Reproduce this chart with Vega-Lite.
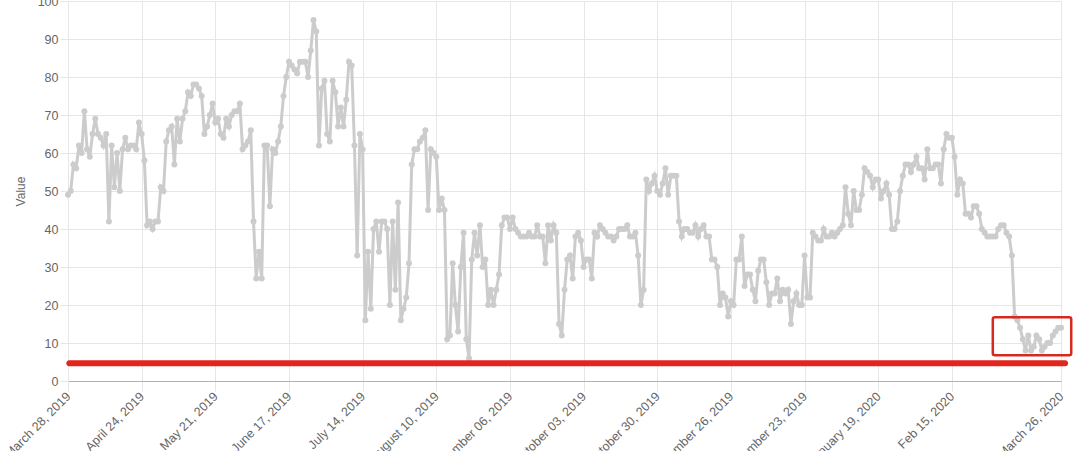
{
  "$schema": "https://vega.github.io/schema/vega-lite/v6.json",
  "width": 993,
  "height": 380,
  "autosize": {"type": "none"},
  "padding": {"left": 68, "top": 1, "right": 19, "bottom": 70},
  "background": "white",
  "config": {"view": {"stroke": null}, "font": "Liberation Sans"},
  "encoding": {
    "x": {
      "field": "date", "type": "temporal",
      "scale": {"type": "utc", "domain": [{"year": 2019, "month": 3, "date": 28, "utc": true}, {"year": 2020, "month": 3, "date": 26, "utc": true}]},
      "axis": {
        "title": null,
        "values": [
          {"year": 2019, "month": 3, "date": 28, "utc": true},
          {"year": 2019, "month": 4, "date": 24, "utc": true},
          {"year": 2019, "month": 5, "date": 21, "utc": true},
          {"year": 2019, "month": 6, "date": 17, "utc": true},
          {"year": 2019, "month": 7, "date": 14, "utc": true},
          {"year": 2019, "month": 8, "date": 10, "utc": true},
          {"year": 2019, "month": 9, "date": 6, "utc": true},
          {"year": 2019, "month": 10, "date": 3, "utc": true},
          {"year": 2019, "month": 10, "date": 30, "utc": true},
          {"year": 2019, "month": 11, "date": 26, "utc": true},
          {"year": 2019, "month": 12, "date": 23, "utc": true},
          {"year": 2020, "month": 1, "date": 19, "utc": true},
          {"year": 2020, "month": 2, "date": 15, "utc": true},
          {"year": 2020, "month": 3, "date": 26, "utc": true}
        ],
        "labelExpr": "utcmonth(datum.value) == 1 ? 'Feb 15, 2020' : utcFormat(datum.value, '%B %d, %Y')",
        "labelAngle": -45, "labelAlign": "right", "labelBaseline": "middle",
        "labelPadding": 3, "labelFontSize": 12.5, "labelColor": "#666666",
        "labelOverlap": false, "labelFlush": false, "labelBound": false,
        "tickSize": 10, "tickColor": "#e6e6e6",
        "grid": true, "gridColor": "#e6e6e6",
        "domainColor": "#b3b3b3"
      }
    },
    "y": {
      "field": "value", "type": "quantitative",
      "scale": {"domain": [0, 100], "nice": false},
      "axis": {
        "title": "Value",
        "values": [0, 10, 20, 30, 40, 50, 60, 70, 80, 90, 100],
        "labelOverlap": false, "labelFlush": false, "labelBound": false,
        "labelFontSize": 12.5, "labelColor": "#666666", "labelPadding": 2, "labelBaseline": "middle",
        "tickSize": 8, "tickColor": "#e6e6e6",
        "grid": true, "gridColor": "#e6e6e6",
        "domainColor": "#e6e6e6",
        "titleColor": "#666666", "titleFontSize": 12, "titleFontWeight": "normal",
        "titleAngle": -90, "titleX": -48, "titleY": 190, "titleAlign": "center", "titleBaseline": "middle"
      }
    }
  },
  "layer": [
    {
      "data": {"values": [
        {"date":"2019-03-28","value":49},{"date":"2019-03-29","value":50},{"date":"2019-03-30","value":57},{"date":"2019-03-31","value":56},
        {"date":"2019-04-01","value":62},{"date":"2019-04-02","value":60},{"date":"2019-04-03","value":71},{"date":"2019-04-04","value":61},{"date":"2019-04-05","value":59},{"date":"2019-04-06","value":65},{"date":"2019-04-07","value":69},{"date":"2019-04-08","value":65},{"date":"2019-04-09","value":64},{"date":"2019-04-10","value":62},{"date":"2019-04-11","value":65},{"date":"2019-04-12","value":42},{"date":"2019-04-13","value":62},{"date":"2019-04-14","value":51},{"date":"2019-04-15","value":60},{"date":"2019-04-16","value":50},{"date":"2019-04-17","value":61},{"date":"2019-04-18","value":64},{"date":"2019-04-19","value":61},{"date":"2019-04-20","value":62},{"date":"2019-04-21","value":62},{"date":"2019-04-22","value":61},{"date":"2019-04-23","value":68},{"date":"2019-04-24","value":65},{"date":"2019-04-25","value":58},{"date":"2019-04-26","value":41},{"date":"2019-04-27","value":42},{"date":"2019-04-28","value":40},{"date":"2019-04-29","value":42},{"date":"2019-04-30","value":42},
        {"date":"2019-05-01","value":51},{"date":"2019-05-02","value":50},{"date":"2019-05-03","value":63},{"date":"2019-05-04","value":66},{"date":"2019-05-05","value":67},{"date":"2019-05-06","value":57},{"date":"2019-05-07","value":69},{"date":"2019-05-08","value":63},{"date":"2019-05-09","value":69},{"date":"2019-05-10","value":71},{"date":"2019-05-11","value":76},{"date":"2019-05-12","value":75},{"date":"2019-05-13","value":78},{"date":"2019-05-14","value":78},{"date":"2019-05-15","value":77},{"date":"2019-05-16","value":75},{"date":"2019-05-17","value":65},{"date":"2019-05-18","value":67},{"date":"2019-05-19","value":70},{"date":"2019-05-20","value":73},{"date":"2019-05-21","value":68},{"date":"2019-05-22","value":69},{"date":"2019-05-23","value":65},{"date":"2019-05-24","value":64},{"date":"2019-05-25","value":69},{"date":"2019-05-26","value":67},{"date":"2019-05-27","value":70},{"date":"2019-05-28","value":71},{"date":"2019-05-29","value":71},{"date":"2019-05-30","value":73},{"date":"2019-05-31","value":61},
        {"date":"2019-06-01","value":62},{"date":"2019-06-02","value":63},{"date":"2019-06-03","value":66},{"date":"2019-06-04","value":42},{"date":"2019-06-05","value":27},{"date":"2019-06-06","value":34},{"date":"2019-06-07","value":27},{"date":"2019-06-08","value":62},{"date":"2019-06-09","value":62},{"date":"2019-06-10","value":46},{"date":"2019-06-11","value":61},{"date":"2019-06-12","value":60},{"date":"2019-06-13","value":63},{"date":"2019-06-14","value":67},{"date":"2019-06-15","value":75},{"date":"2019-06-16","value":80},{"date":"2019-06-17","value":84},{"date":"2019-06-18","value":83},{"date":"2019-06-19","value":82},{"date":"2019-06-20","value":81},{"date":"2019-06-21","value":84},{"date":"2019-06-22","value":84},{"date":"2019-06-23","value":84},{"date":"2019-06-24","value":80},{"date":"2019-06-25","value":87},{"date":"2019-06-26","value":95},{"date":"2019-06-27","value":92},{"date":"2019-06-28","value":62},{"date":"2019-06-29","value":77},{"date":"2019-06-30","value":79},
        {"date":"2019-07-01","value":65},{"date":"2019-07-02","value":63},{"date":"2019-07-03","value":79},{"date":"2019-07-04","value":76},{"date":"2019-07-05","value":67},{"date":"2019-07-06","value":72},{"date":"2019-07-07","value":67},{"date":"2019-07-08","value":74},{"date":"2019-07-09","value":84},{"date":"2019-07-10","value":83},{"date":"2019-07-11","value":62},{"date":"2019-07-12","value":33},{"date":"2019-07-13","value":65},{"date":"2019-07-14","value":61},{"date":"2019-07-15","value":16},{"date":"2019-07-16","value":34},{"date":"2019-07-17","value":19},{"date":"2019-07-18","value":40},{"date":"2019-07-19","value":42},{"date":"2019-07-20","value":34},{"date":"2019-07-21","value":42},{"date":"2019-07-22","value":42},{"date":"2019-07-23","value":40},{"date":"2019-07-24","value":20},{"date":"2019-07-25","value":42},{"date":"2019-07-26","value":24},{"date":"2019-07-27","value":47},{"date":"2019-07-28","value":16},{"date":"2019-07-29","value":19},{"date":"2019-07-30","value":22},{"date":"2019-07-31","value":31},
        {"date":"2019-08-01","value":57},{"date":"2019-08-02","value":61},{"date":"2019-08-03","value":61},{"date":"2019-08-04","value":63},{"date":"2019-08-05","value":64},{"date":"2019-08-06","value":66},{"date":"2019-08-07","value":45},{"date":"2019-08-08","value":61},{"date":"2019-08-09","value":60},{"date":"2019-08-10","value":59},{"date":"2019-08-11","value":45},{"date":"2019-08-12","value":48},{"date":"2019-08-13","value":45},{"date":"2019-08-14","value":11},{"date":"2019-08-15","value":12},{"date":"2019-08-16","value":31},{"date":"2019-08-17","value":20},{"date":"2019-08-18","value":13},{"date":"2019-08-19","value":30},{"date":"2019-08-20","value":39},{"date":"2019-08-21","value":11},{"date":"2019-08-22","value":6},{"date":"2019-08-23","value":32},{"date":"2019-08-24","value":39},{"date":"2019-08-25","value":33},{"date":"2019-08-26","value":41},{"date":"2019-08-27","value":30},{"date":"2019-08-28","value":32},{"date":"2019-08-29","value":20},{"date":"2019-08-30","value":24},{"date":"2019-08-31","value":20},
        {"date":"2019-09-01","value":24},{"date":"2019-09-02","value":28},{"date":"2019-09-03","value":41},{"date":"2019-09-04","value":43},{"date":"2019-09-05","value":43},{"date":"2019-09-06","value":40},{"date":"2019-09-07","value":43},{"date":"2019-09-08","value":40},{"date":"2019-09-09","value":39},{"date":"2019-09-10","value":38},{"date":"2019-09-11","value":38},{"date":"2019-09-12","value":38},{"date":"2019-09-13","value":39},{"date":"2019-09-14","value":38},{"date":"2019-09-15","value":38},{"date":"2019-09-16","value":41},{"date":"2019-09-17","value":38},{"date":"2019-09-18","value":38},{"date":"2019-09-19","value":31},{"date":"2019-09-20","value":41},{"date":"2019-09-21","value":37},{"date":"2019-09-22","value":41},{"date":"2019-09-23","value":39},{"date":"2019-09-24","value":15},{"date":"2019-09-25","value":12},{"date":"2019-09-26","value":24},{"date":"2019-09-27","value":32},{"date":"2019-09-28","value":33},{"date":"2019-09-29","value":27},{"date":"2019-09-30","value":38},
        {"date":"2019-10-01","value":39},{"date":"2019-10-02","value":37},{"date":"2019-10-03","value":30},{"date":"2019-10-04","value":32},{"date":"2019-10-05","value":32},{"date":"2019-10-06","value":27},{"date":"2019-10-07","value":39},{"date":"2019-10-08","value":38},{"date":"2019-10-09","value":41},{"date":"2019-10-10","value":40},{"date":"2019-10-11","value":39},{"date":"2019-10-12","value":38},{"date":"2019-10-13","value":38},{"date":"2019-10-14","value":37},{"date":"2019-10-15","value":38},{"date":"2019-10-16","value":40},{"date":"2019-10-17","value":40},{"date":"2019-10-18","value":40},{"date":"2019-10-19","value":41},{"date":"2019-10-20","value":38},{"date":"2019-10-21","value":38},{"date":"2019-10-22","value":39},{"date":"2019-10-23","value":33},{"date":"2019-10-24","value":20},{"date":"2019-10-25","value":24},{"date":"2019-10-26","value":53},{"date":"2019-10-27","value":50},{"date":"2019-10-28","value":52},{"date":"2019-10-29","value":54},{"date":"2019-10-30","value":50},{"date":"2019-10-31","value":49},
        {"date":"2019-11-01","value":52},{"date":"2019-11-02","value":56},{"date":"2019-11-03","value":49},{"date":"2019-11-04","value":54},{"date":"2019-11-05","value":54},{"date":"2019-11-06","value":54},{"date":"2019-11-07","value":42},{"date":"2019-11-08","value":38},{"date":"2019-11-09","value":40},{"date":"2019-11-10","value":40},{"date":"2019-11-11","value":39},{"date":"2019-11-12","value":39},{"date":"2019-11-13","value":41},{"date":"2019-11-14","value":38},{"date":"2019-11-15","value":40},{"date":"2019-11-16","value":41},{"date":"2019-11-17","value":38},{"date":"2019-11-18","value":38},{"date":"2019-11-19","value":32},{"date":"2019-11-20","value":32},{"date":"2019-11-21","value":30},{"date":"2019-11-22","value":20},{"date":"2019-11-23","value":23},{"date":"2019-11-24","value":22},{"date":"2019-11-25","value":17},{"date":"2019-11-26","value":21},{"date":"2019-11-27","value":20},{"date":"2019-11-28","value":32},{"date":"2019-11-29","value":32},{"date":"2019-11-30","value":38},
        {"date":"2019-12-01","value":25},{"date":"2019-12-02","value":28},{"date":"2019-12-03","value":28},{"date":"2019-12-04","value":24},{"date":"2019-12-05","value":21},{"date":"2019-12-06","value":29},{"date":"2019-12-07","value":32},{"date":"2019-12-08","value":32},{"date":"2019-12-09","value":26},{"date":"2019-12-10","value":20},{"date":"2019-12-11","value":23},{"date":"2019-12-12","value":23},{"date":"2019-12-13","value":27},{"date":"2019-12-14","value":21},{"date":"2019-12-15","value":24},{"date":"2019-12-16","value":23},{"date":"2019-12-17","value":24},{"date":"2019-12-18","value":15},{"date":"2019-12-19","value":21},{"date":"2019-12-20","value":23},{"date":"2019-12-21","value":20},{"date":"2019-12-22","value":20},{"date":"2019-12-23","value":33},{"date":"2019-12-24","value":22},{"date":"2019-12-25","value":22},{"date":"2019-12-26","value":39},{"date":"2019-12-27","value":38},{"date":"2019-12-28","value":37},{"date":"2019-12-29","value":37},{"date":"2019-12-30","value":40},{"date":"2019-12-31","value":38},
        {"date":"2020-01-01","value":38},{"date":"2020-01-02","value":39},{"date":"2020-01-03","value":38},{"date":"2020-01-04","value":39},{"date":"2020-01-05","value":40},{"date":"2020-01-06","value":41},{"date":"2020-01-07","value":51},{"date":"2020-01-08","value":44},{"date":"2020-01-09","value":41},{"date":"2020-01-10","value":50},{"date":"2020-01-11","value":45},{"date":"2020-01-12","value":45},{"date":"2020-01-13","value":49},{"date":"2020-01-14","value":56},{"date":"2020-01-15","value":55},{"date":"2020-01-16","value":54},{"date":"2020-01-17","value":51},{"date":"2020-01-18","value":53},{"date":"2020-01-19","value":53},{"date":"2020-01-20","value":48},{"date":"2020-01-21","value":50},{"date":"2020-01-22","value":52},{"date":"2020-01-23","value":49},{"date":"2020-01-24","value":40},{"date":"2020-01-25","value":40},{"date":"2020-01-26","value":42},{"date":"2020-01-27","value":50},{"date":"2020-01-28","value":54},{"date":"2020-01-29","value":57},{"date":"2020-01-30","value":57},{"date":"2020-01-31","value":55},
        {"date":"2020-02-01","value":57},{"date":"2020-02-02","value":59},{"date":"2020-02-03","value":56},{"date":"2020-02-04","value":56},{"date":"2020-02-05","value":53},{"date":"2020-02-06","value":61},{"date":"2020-02-07","value":56},{"date":"2020-02-08","value":56},{"date":"2020-02-09","value":57},{"date":"2020-02-10","value":57},{"date":"2020-02-11","value":52},{"date":"2020-02-12","value":61},{"date":"2020-02-13","value":65},{"date":"2020-02-14","value":64},{"date":"2020-02-15","value":64},{"date":"2020-02-16","value":59},{"date":"2020-02-17","value":49},{"date":"2020-02-18","value":53},{"date":"2020-02-19","value":52},{"date":"2020-02-20","value":44},{"date":"2020-02-21","value":44},{"date":"2020-02-22","value":43},{"date":"2020-02-23","value":46},{"date":"2020-02-24","value":46},{"date":"2020-02-25","value":44},{"date":"2020-02-26","value":40},{"date":"2020-02-27","value":39},{"date":"2020-02-28","value":38},{"date":"2020-02-29","value":38},
        {"date":"2020-03-01","value":38},{"date":"2020-03-02","value":38},{"date":"2020-03-03","value":40},{"date":"2020-03-04","value":41},{"date":"2020-03-05","value":41},{"date":"2020-03-06","value":39},{"date":"2020-03-07","value":38},{"date":"2020-03-08","value":33},{"date":"2020-03-09","value":17},{"date":"2020-03-10","value":16},{"date":"2020-03-11","value":14},{"date":"2020-03-12","value":11},{"date":"2020-03-13","value":8},{"date":"2020-03-14","value":12},{"date":"2020-03-15","value":8},{"date":"2020-03-16","value":9},{"date":"2020-03-17","value":12},{"date":"2020-03-18","value":11},{"date":"2020-03-19","value":8},{"date":"2020-03-20","value":9},{"date":"2020-03-21","value":10},{"date":"2020-03-22","value":10},{"date":"2020-03-23","value":12},{"date":"2020-03-24","value":13},{"date":"2020-03-25","value":14},{"date":"2020-03-26","value":14}
      ]},
      "mark": {"type": "line", "color": "#cccccc", "strokeWidth": 3, "point": {"filled": true, "size": 36, "color": "#cccccc"}}
    },
    {
      "data": {"values": [{"date": "2019-03-28T12:00:00Z", "date2": "2020-03-27T12:00:00Z", "value": 4.7}]},
      "mark": {"type": "rule", "color": "#e3261d", "strokeWidth": 6, "strokeCap": "round", "clip": false},
      "encoding": {
        "x2": {"field": "date2"}
      }
    },
    {
      "data": {"values": [{"date": "2020-03-01T00:00:00Z", "date2": "2020-03-29T18:00:00Z", "value": 6.8, "value2": 16.8}]},
      "mark": {"type": "rect", "fill": "white", "fillOpacity": 0, "stroke": "#d42a22", "strokeWidth": 2.5, "cornerRadius": 2, "clip": false},
      "encoding": {
        "x2": {"field": "date2"},
        "y2": {"field": "value2"}
      }
    }
  ]
}
